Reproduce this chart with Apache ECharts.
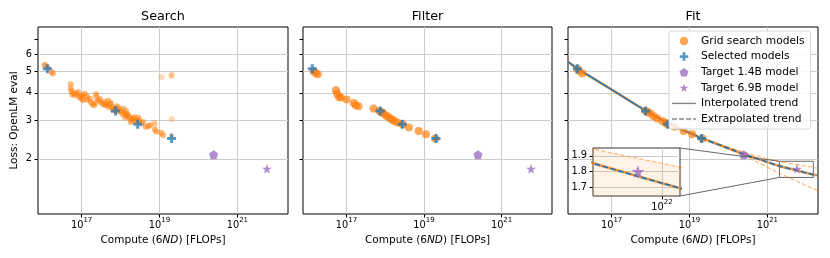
<!DOCTYPE html>
<html><head><meta charset="utf-8">
<script src="https://cdn.jsdelivr.net/npm/echarts@6/dist/echarts.min.js"></script>
<style>html,body{margin:0;padding:0;background:#fff}#c{width:830px;height:258px}</style>
</head><body><div id="c"></div>
<script>
// ---------------- data (compute given as log10 FLOPs) ----------------
const xTickExps = [17, 19, 21];
const yTickLosses = [2, 3, 4, 5, 6];
const yMinorTickLosses = [7];
const insetXTickExps = [22];
const insetYTicks = [1.7, 1.8, 1.9];
const xRange = [15.88, 22.3];
const lossRange = [1.12, 8];
const insetLogCRange = [21.31, 22.18];
const insetLossRange = [1.645, 1.95];

const searchLogC = [16.06,16.12,16.23,16.26,16.72,16.72,16.74,16.76,16.79,16.83,16.87,16.91,16.94,16.98,17.00,17.02,17.04,17.08,17.13,17.15,17.21,17.23,17.28,17.32,17.35,17.37,17.38,17.43,17.47,17.49,17.54,17.58,17.60,17.64,17.68,17.70,17.73,17.75,17.77,17.81,17.85,17.88,17.90,17.92,17.94,17.98,18.02,18.05,18.07,18.11,18.12,18.14,18.15,18.18,18.20,18.24,18.26,18.28,18.32,18.35,18.37,18.41,18.43,18.45,18.49,18.54,18.58,18.65,18.71,18.75,18.88,18.92,19.05,19.09];
const searchLoss = [5.35,5.22,4.99,4.90,4.38,4.18,4.08,3.93,4.00,3.90,3.97,4.04,3.83,3.85,3.77,3.90,3.70,3.97,3.86,3.72,3.77,3.64,3.55,3.51,3.60,3.94,3.83,3.70,3.75,3.64,3.58,3.52,3.64,3.51,3.68,3.45,3.55,3.60,3.45,3.33,3.39,3.40,3.48,3.30,3.43,3.33,3.28,3.20,3.39,3.22,3.08,3.31,3.16,3.20,3.13,3.09,2.95,3.02,3.05,3.10,2.98,3.02,2.96,3.09,3.00,2.90,2.95,2.80,2.82,2.85,2.72,2.66,2.63,2.56];
const searchFadedLogC = [16.04,18.86,18.88,19.05,19.31,19.31,19.31,19.31];
const searchFadedLoss = [5.40,2.92,2.87,4.73,4.86,4.78,3.04,2.54];

const filterLogC = [16.15,16.21,16.26,16.73,16.76,16.81,16.85,17.00,17.19,17.24,17.31,17.70,17.85,17.90,17.94,18.01,18.07,18.13,18.18,18.24,18.32,18.45,18.61,18.86,19.05,19.29];
const filterLoss = [5.03,4.93,4.87,4.11,3.97,3.83,3.81,3.73,3.60,3.51,3.48,3.40,3.31,3.27,3.24,3.16,3.11,3.06,3.02,2.98,2.92,2.88,2.78,2.68,2.59,2.48];

const fitLogC = [16.12,16.16,16.25,17.87,17.93,18.00,18.08,18.17,18.30,18.38,18.44,18.62,18.85,19.07,19.33];
const fitLoss = [5.16,5.05,4.90,3.31,3.27,3.22,3.13,3.06,2.98,2.92,2.88,2.80,2.68,2.59,2.48];

const selectedLogC = [16.12,17.87,18.44,19.31];
const selectedLoss = [5.16,3.31,2.88,2.48];
const target14LogC = [20.39], target14Loss = [2.09];
const target69LogC = [21.76], target69Loss = [1.80];

const interpLogC = [15.88,16.12,17.0,17.87,18.45,19.3];
const interpLoss = [5.55,5.17,4.14,3.32,2.90,2.49];
const extrapLogC = [19.3,20.4,21.31,21.76,22.18,22.3];
const extrapLoss = [2.49,2.10,1.853,1.77,1.694,1.68];
const bandLogC = [19.3,20.4,21.31,22.18,22.3];
const bandUpper = [2.49,2.14,1.943,1.828,1.815];
const bandLower = [2.49,2.07,1.72,1.46,1.43];

// ---------------- helpers ----------------
const L = Math.log10;
const pts = (xs, ys) => xs.map((x, i) => [x, L(ys[i])]);
const ptsLin = (xs, ys) => xs.map((x, i) => [x, ys[i]]);
const ORANGE = '#ff7f0e', BLUE = '#1f77b4', PURPLE = '#9467bd';
const PLUS = 'path://M3,0h3v3h3v3h-3v3h-3v-3h-3v-3h3z';
const PENT = 'path://M50,0L97.6,34.5L79.4,90.5L20.6,90.5L2.4,34.5Z';
const STAR = 'path://M50,0L61.2,34.5L97.6,34.5L68.2,55.9L79.4,90.5L50,69.1L20.6,90.5L31.8,55.9L2.4,34.5L38.8,34.5Z';
const LINEICON = 'path://M0,0h22v1.3h-22z';
const DASHICON = 'path://M0,0h4.5v1.3h-4.5z M6.5,0h4.5v1.3h-4.5z M13,0h4.5v1.3h-4.5z M19.5,0h2.5v1.3h-2.5z';
const FONT = 'DejaVu Sans';
const GRIDC = '#cccccc';
const supRich = {
  b: {fontSize: 9.8, color: '#000', fontFamily: FONT, lineHeight: 16, verticalAlign: 'middle'},
  s: {fontSize: 7, color: '#000', fontFamily: FONT, lineHeight: 8, verticalAlign: 'top'}
};

const grids = [
  {left: 38, top: 27, width: 250, height: 187},
  {left: 303, top: 27, width: 249, height: 187},
  {left: 568, top: 27, width: 250, height: 187}
].map(g => Object.assign({show: true, borderColor: '#000', borderWidth: 1, backgroundColor: 'transparent', containLabel: false}, g));
grids.push({left: 593, top: 148, width: 87, height: 48, show: true, borderColor: '#333', borderWidth: 1, backgroundColor: '#fff', z: 10});

const xAxes = [0, 1, 2].map(i => ({
  type: 'value', gridIndex: i, min: xRange[0], max: xRange[1],
  axisLine: {show: false},
  axisTick: {show: true, customValues: xTickExps, length: 3.5, lineStyle: {color: '#000'}},
  axisLabel: {customValues: xTickExps, margin: 3, formatter: v => '{b|10}{s|' + v + '}', rich: supRich},
  splitLine: {show: true, lineStyle: {color: GRIDC, width: 1}},
  name: '{a|Compute (6}{i|ND}{a|) [FLOPs]}', nameLocation: 'middle', nameGap: 20,
  nameTextStyle: {rich: {
    a: {fontSize: 10.5, color: '#000', fontFamily: FONT, lineHeight: 12},
    i: {fontSize: 10.5, color: '#000', fontFamily: FONT, fontStyle: 'italic', lineHeight: 12}
  }}
}));
xAxes.push({
  type: 'value', gridIndex: 3, min: insetLogCRange[0], max: insetLogCRange[1], z: 11,
  axisLine: {show: false},
  axisTick: {show: true, customValues: insetXTickExps, length: 3.5, lineStyle: {color: '#000'}},
  axisLabel: {customValues: insetXTickExps, margin: 3, formatter: v => '{b|10}{s|' + v + '}', rich: supRich},
  splitLine: {show: true, lineStyle: {color: GRIDC, width: 1}}
});

const yAxes = [0, 1, 2].map(i => ({
  type: 'value', gridIndex: i, min: L(lossRange[0]), max: L(lossRange[1]),
  axisLine: {show: false},
  axisTick: {show: true, customValues: yTickLosses.map(L), length: 3.5, lineStyle: {color: '#000'}},
  axisLabel: {show: i === 0, customValues: yTickLosses.map(L), margin: 6, fontSize: 9.8, color: '#000', fontFamily: FONT,
    formatter: v => String(Math.round(Math.pow(10, v)))},
  splitLine: {show: true, lineStyle: {color: GRIDC, width: 1}},
  name: i === 0 ? 'Loss: OpenLM eval' : '', nameLocation: 'middle', nameGap: 18,
  nameTextStyle: {fontSize: 10.5, color: '#000', fontFamily: FONT, lineHeight: 12}
}));
yAxes.push({
  type: 'value', gridIndex: 3, min: insetLossRange[0], max: insetLossRange[1], z: 11,
  axisLine: {show: false},
  axisTick: {show: true, customValues: insetYTicks, length: 3.5, lineStyle: {color: '#000'}},
  axisLabel: {customValues: insetYTicks, margin: 6, fontSize: 9.8, color: '#000', fontFamily: FONT, formatter: v => v.toFixed(1)},
  splitLine: {show: true, lineStyle: {color: GRIDC, width: 1}}
});
[0, 1, 2].forEach(i => yAxes.push({
  type: 'value', gridIndex: i, min: L(lossRange[0]), max: L(lossRange[1]), position: 'left', offset: 0,
  axisLine: {show: false},
  axisTick: {show: true, customValues: yMinorTickLosses.map(L), length: 3.5, lineStyle: {color: '#000'}},
  axisLabel: {show: false, customValues: yMinorTickLosses.map(L)},
  splitLine: {show: false}
}));

const series = [];
const scatter = (name, i, data, symbol, size, color, opacity, z) => series.push({
  type: 'scatter', name, xAxisIndex: i, yAxisIndex: i, data, symbol, symbolSize: size,
  itemStyle: {color, opacity}, z: z || 3, silent: true
});
function markers(i) {
  scatter('Selected models', i, pts(selectedLogC, selectedLoss), PLUS, 9, BLUE, 0.75, 4);
  scatter('Target 1.4B model', i, pts(target14LogC, target14Loss), PENT, 9, PURPLE, 0.75, 4);
  scatter('Target 6.9B model', i, pts(target69LogC, target69Loss), STAR, 10, PURPLE, 0.75, 4);
}
// Search
scatter('Grid search models', 0, pts(searchFadedLogC, searchFadedLoss), 'circle', 6, ORANGE, 0.3);
scatter('Grid search models', 0, pts(searchLogC, searchLoss), 'circle', 6, ORANGE, 0.55);
markers(0);
// Filter
scatter('Grid search models', 1, pts(filterLogC, filterLoss), 'circle', 8, ORANGE, 0.7);
markers(1);
// Fit: band
series.push({type: 'line', xAxisIndex: 2, yAxisIndex: 2, stack: 'band', symbol: 'none', silent: true,
  data: pts(bandLogC, bandLower), lineStyle: {opacity: 0}, z: 2});
series.push({type: 'line', xAxisIndex: 2, yAxisIndex: 2, stack: 'band', symbol: 'none', silent: true,
  data: bandLogC.map((x, k) => [x, L(bandUpper[k]) - L(bandLower[k])]),
  lineStyle: {opacity: 0}, areaStyle: {color: 'rgba(255,127,14,0.16)'}, z: 2});
const lineS = (name, xi, yi, data, color, width, type, opacity, z) => series.push({
  type: 'line', name, xAxisIndex: xi, yAxisIndex: yi, data, symbol: 'none', silent: true,
  lineStyle: {color, width, type, opacity}, z
});
lineS('', 2, 2, pts(bandLogC, bandUpper), ORANGE, 1.3, [4.5, 2], 0.5, 2);
lineS('', 2, 2, pts(bandLogC, bandLower), ORANGE, 1.3, [4.5, 2], 0.5, 2);
lineS('', 2, 2, pts(interpLogC, interpLoss), ORANGE, 2.6, 'solid', 0.8, 2);
lineS('', 2, 2, pts(extrapLogC, extrapLoss), ORANGE, 2.6, 'solid', 0.8, 2);
scatter('Grid search models', 2, pts(fitLogC, fitLoss), 'circle', 8, ORANGE, 0.7);
lineS('', 2, 2, pts(interpLogC, interpLoss), BLUE, 1.6, 'solid', 1, 3);
lineS('', 2, 2, pts(extrapLogC, extrapLoss), BLUE, 1.8, [5.5, 2.6], 1, 3);
markers(2);
// inset box in main Fit panel
series.push({type: 'line', xAxisIndex: 2, yAxisIndex: 2, data: [], silent: true,
  markArea: {silent: true, itemStyle: {color: 'rgba(0,0,0,0)', borderColor: '#666', borderWidth: 1},
    data: [[{coord: [insetLogCRange[0], L(insetLossRange[1])]}, {coord: [insetLogCRange[1], L(insetLossRange[0])]}]]}});
// legend-only series
series.push({type: 'line', name: 'Interpolated trend', xAxisIndex: 2, yAxisIndex: 2, data: [], color: '#888'});
series.push({type: 'line', name: 'Extrapolated trend', xAxisIndex: 2, yAxisIndex: 2, data: [], color: '#888'});
// Inset
series.push({type: 'line', xAxisIndex: 3, yAxisIndex: 3, data: ptsLin(bandLogC, bandUpper), symbol: 'none', silent: true,
  lineStyle: {color: ORANGE, width: 1.3, type: [4.5, 2], opacity: 0.5},
  areaStyle: {color: 'rgba(255,127,14,0.14)', origin: 'start'}, z: 12});
lineS('', 3, 3, ptsLin(extrapLogC, extrapLoss), ORANGE, 2.6, 'solid', 0.8, 13);
lineS('', 3, 3, ptsLin(extrapLogC, extrapLoss), BLUE, 1.8, [5.5, 2.6], 1, 14);
series.push({type: 'scatter', name: 'Target 6.9B model', xAxisIndex: 3, yAxisIndex: 3,
  data: ptsLin(target69LogC, target69Loss), symbol: STAR, symbolSize: 13, itemStyle: {color: PURPLE, opacity: 0.75}, z: 15, silent: true});

const option = {
  animation: false,
  textStyle: {fontFamily: FONT},
  title: [['Search', 163], ['Filter', 427.5], ['Fit', 693]].map(([t, x]) => ({
    text: t, left: x, top: 9.5, textAlign: 'center', padding: 0,
    textStyle: {fontSize: 12.8, fontWeight: 'normal', color: '#000', fontFamily: FONT, lineHeight: 14}
  })),
  grid: grids, xAxis: xAxes, yAxis: yAxes,
  legend: {
    orient: 'vertical', left: 669, top: 31, padding: [4, 6, 4, 3], itemWidth: 24, itemHeight: 8.5, itemGap: 3.6,
    backgroundColor: 'rgba(255,255,255,0.85)', borderColor: '#d5d5d5', borderWidth: 1, borderRadius: 3,
    selectedMode: false, z: 8,
    textStyle: {fontSize: 10.7, color: '#000', fontFamily: FONT, lineHeight: 12},
    data: [
      {name: 'Grid search models', icon: 'circle', itemStyle: {color: 'rgba(255,127,14,0.7)', opacity: 1, borderWidth: 0}},
      {name: 'Selected models', icon: PLUS, itemStyle: {color: 'rgba(31,119,180,0.75)', opacity: 1, borderWidth: 0}},
      {name: 'Target 1.4B model', icon: PENT, itemStyle: {color: 'rgba(148,103,189,0.75)', opacity: 1, borderWidth: 0}},
      {name: 'Target 6.9B model', icon: STAR, itemStyle: {color: 'rgba(148,103,189,0.75)', opacity: 1, borderWidth: 0}},
      {name: 'Interpolated trend', icon: LINEICON, itemStyle: {color: '#888', opacity: 1, borderWidth: 0}},
      {name: 'Extrapolated trend', icon: DASHICON, itemStyle: {color: '#888', opacity: 1, borderWidth: 0}}
    ]
  },
  series
};
const chart = echarts.init(document.getElementById('c'), null, {renderer: 'canvas'});
chart.setOption(option);
// connector lines from inset to the zoom box
const inTR = chart.convertToPixel({xAxisIndex: 3, yAxisIndex: 3}, [insetLogCRange[1], insetLossRange[1]]);
const inBR = chart.convertToPixel({xAxisIndex: 3, yAxisIndex: 3}, [insetLogCRange[1], insetLossRange[0]]);
const boxTL = chart.convertToPixel({xAxisIndex: 2, yAxisIndex: 2}, [insetLogCRange[0], L(insetLossRange[1])]);
const boxBL = chart.convertToPixel({xAxisIndex: 2, yAxisIndex: 2}, [insetLogCRange[0], L(insetLossRange[0])]);
chart.setOption({graphic: [
  {type: 'line', z: 20, silent: true, shape: {x1: inTR[0], y1: inTR[1], x2: boxTL[0], y2: boxTL[1]}, style: {stroke: '#666', lineWidth: 1}},
  {type: 'line', z: 20, silent: true, shape: {x1: inBR[0], y1: inBR[1], x2: boxBL[0], y2: boxBL[1]}, style: {stroke: '#666', lineWidth: 1}}
]});
</script></body></html>
